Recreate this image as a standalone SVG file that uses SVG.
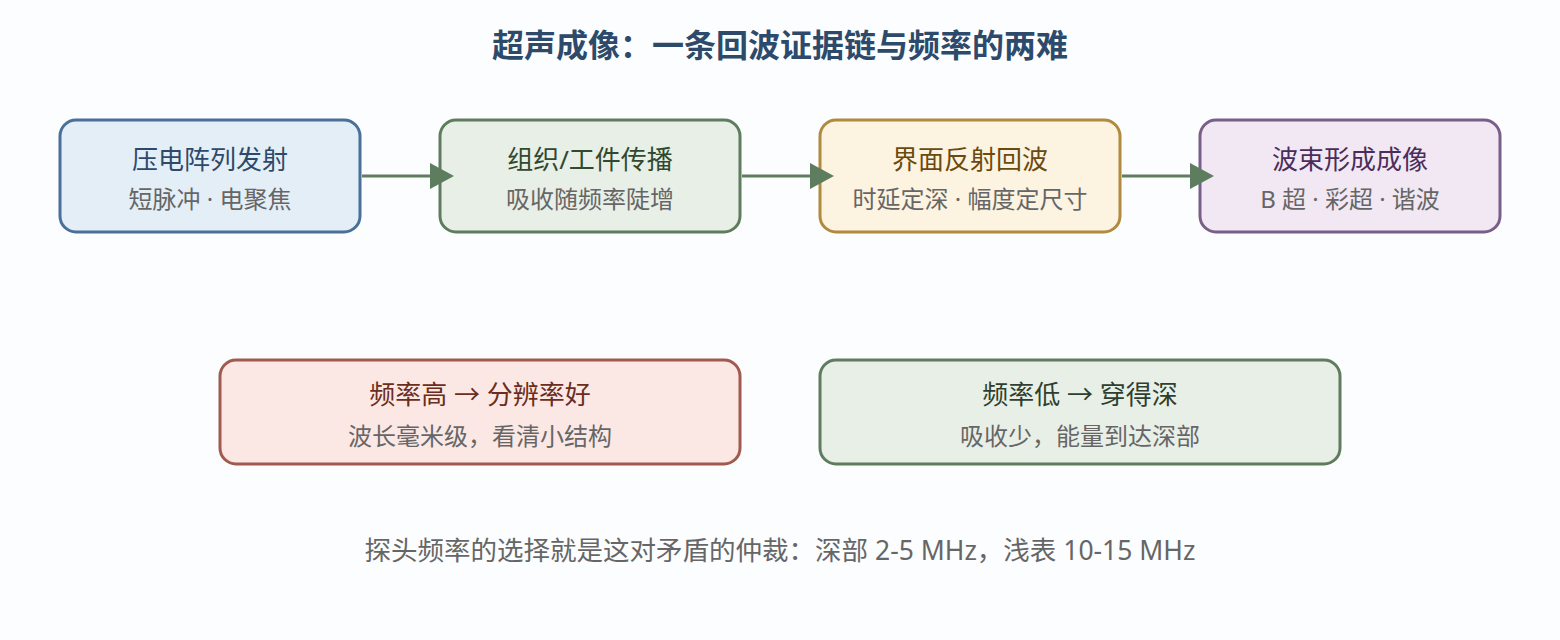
<svg xmlns="http://www.w3.org/2000/svg" width="1560" height="640" viewBox="0 0 1560 640">
<style>
text{font-family:"Noto Sans","Noto Sans CJK SC",sans-serif;text-anchor:middle}
.t{font-size:26px}
.s{font-size:24px;fill:#666}
.box{stroke-width:3}
.conn{stroke:#5e7d5e;stroke-width:3;fill:none}
</style>
<defs>
<marker id="ah" markerWidth="24" markerHeight="26" refX="0" refY="13" orient="auto" markerUnits="userSpaceOnUse" viewBox="0 0 24 26">
<path d="M0,0 L24,13 L0,26 z" fill="#5e7d5e"/>
</marker>
</defs>
<rect width="1560" height="640" fill="#fcfdfe"/>
<text x="780" y="57" style="font-size:32px;font-weight:bold;fill:#2d4a6b">超声成像：一条回波证据链与频率的两难</text>
<g id="n1"><rect class="box" x="60" y="120" width="300" height="112" rx="16" fill="#e4eef7" stroke="#4a6f99"/><text class="t" x="210" y="169" fill="#2d4a6b">压电阵列发射</text><text class="s" x="210" y="208">短脉冲 · 电聚焦</text></g>
<g id="n2"><rect class="box" x="440" y="120" width="300" height="112" rx="16" fill="#e8efe6" stroke="#5e7d5e"/><text class="t" x="590" y="169" fill="#2f4a2f">组织/工件传播</text><text class="s" x="590" y="208">吸收随频率陡增</text></g>
<g id="n3"><rect class="box" x="820" y="120" width="300" height="112" rx="16" fill="#fdf3e1" stroke="#b08a3e"/><text class="t" x="970" y="169" fill="#6b4a10">界面反射回波</text><text class="s" x="970" y="208">时延定深 · 幅度定尺寸</text></g>
<g id="n4"><rect class="box" x="1200" y="120" width="300" height="112" rx="16" fill="#f1e8f3" stroke="#7a5e8a"/><text class="t" x="1350" y="169" fill="#4a2d5a">波束形成成像</text><text class="s" x="1350" y="208">B 超 · 彩超 · 谐波</text></g>
<g id="n5"><rect class="box" x="220" y="360" width="520" height="104" rx="16" fill="#fbe8e5" stroke="#a05a4e"/><text class="t" x="480" y="404" fill="#6b2d20">频率高 → 分辨率好</text><text class="s" x="480" y="445">波长毫米级，看清小结构</text></g>
<g id="n6"><rect class="box" x="820" y="360" width="520" height="104" rx="16" fill="#e8efe6" stroke="#5e7d5e"/><text class="t" x="1080" y="404" fill="#2f3f2f">频率低 → 穿得深</text><text class="s" x="1080" y="445">吸收少，能量到达深部</text></g>
<g id="connectors">
<path class="conn" d="M362,176 L430,176" marker-end="url(#ah)"/>
<path class="conn" d="M742,176 L810,176" marker-end="url(#ah)"/>
<path class="conn" d="M1122,176 L1190,176" marker-end="url(#ah)"/>
</g>
<text x="780" y="560" style="font-size:26.5px;fill:#666">探头频率的选择就是这对矛盾的仲裁：深部 2-5 MHz，浅表 10-15 MHz</text>
</svg>
